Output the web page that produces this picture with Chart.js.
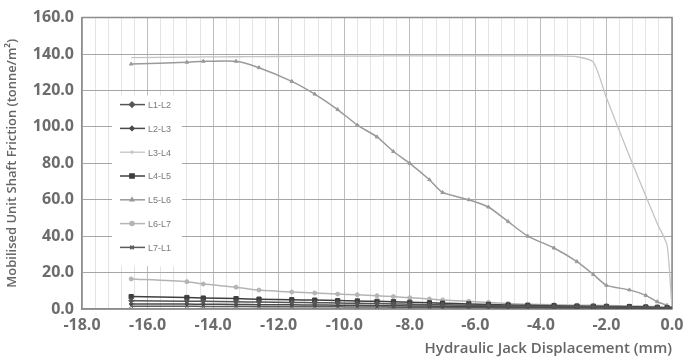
<!DOCTYPE html>
<html>
<head>
<meta charset="utf-8">
<script src="https://cdn.jsdelivr.net/npm/chart.js@4.4.1/dist/chart.umd.min.js"></script>
<style>
    html, body { margin: 0; padding: 0; background: #fff; }
    #wrap { width: 694px; height: 358px; }
</style>
</head>
<body>
<div id="wrap"><canvas id="frictionChart"></canvas></div>
<script>
// Jack displacement readings (mm), shared by every level pair
const displacement = [-16.5, -14.8, -14.3, -13.3, -12.6, -11.6, -10.9, -10.2, -9.6, -9.0, -8.5, -8.0, -7.4, -7.0, -6.2, -5.6, -5.0, -4.4, -3.6, -2.9, -2.4, -2.0, -1.3, -0.8, -0.45, -0.15, 0.0];

// Mobilised unit shaft friction (tonne/m2) per level pair
const l1l2 = [4.5, 4.3, 4.2, 4.0, 3.8, 3.6, 3.5, 3.3, 3.1, 3.0, 2.8, 2.6, 2.4, 2.3, 2.1, 1.9, 1.7, 1.5, 1.4, 1.3, 1.2, 1.1, 1.0, 0.9, 0.7, 0.5, 0];
const l2l3 = [2.8, 2.7, 2.6, 2.5, 2.4, 2.3, 2.2, 2.1, 2.0, 1.9, 1.8, 1.7, 1.6, 1.5, 1.4, 1.3, 1.2, 1.1, 1.0, 0.9, 0.9, 0.8, 0.7, 0.6, 0.5, 0.4, 0];
const l3l4 = [138.0, 138.3, 138.4, 138.5, 138.6, 138.7, 138.8, 138.8, 138.9, 138.9, 139.0, 139.0, 139.0, 139.0, 139.0, 139.0, 139.0, 139.0, 139.0, 138.5, 135.5, 116.0, 84.0, 62.0, 47.0, 35.0, 0];
const l4l5 = [6.8, 6.3, 6.0, 5.7, 5.4, 5.1, 4.9, 4.6, 4.4, 4.2, 4.0, 3.7, 3.4, 3.2, 2.8, 2.5, 2.2, 2.0, 1.8, 1.6, 1.5, 1.4, 1.3, 1.1, 0.9, 0.7, 0];
const l5l6 = [134.5, 135.5, 136.0, 136.0, 132.5, 125.0, 118.0, 109.5, 101.0, 94.5, 86.5, 80.0, 71.0, 64.0, 60.0, 56.0, 48.0, 40.0, 33.5, 26.0, 19.0, 13.0, 10.5, 7.5, 4.0, 2.0, 0];
const l6l7 = [16.5, 15.0, 13.7, 12.0, 10.4, 9.3, 8.8, 8.2, 7.8, 7.3, 6.8, 6.2, 5.5, 5.0, 4.2, 3.6, 3.0, 2.6, 2.3, 2.1, 2.0, 1.9, 1.7, 1.5, 1.3, 1.0, 0];
const l7l1 = [1.5, 1.5, 1.4, 1.4, 1.3, 1.3, 1.2, 1.2, 1.1, 1.1, 1.0, 1.0, 0.9, 0.9, 0.8, 0.8, 0.7, 0.7, 0.6, 0.6, 0.5, 0.5, 0.4, 0.4, 0.3, 0.2, 0];

const seriesNames = ['L1-L2', 'L2-L3', 'L3-L4', 'L4-L5', 'L5-L6', 'L6-L7', 'L7-L1'];
const seriesValues = [l1l2, l2l3, l3l4, l4l5, l5l6, l6l7, l7l1];

// look of each series (colour, marker)
const styles = [
    { color: '#555555', point: 'rectRot', radius: 2.5, width: 1.5 },
    { color: '#4a4a4a', point: 'rectRot', radius: 2, width: 1.5 },
    { color: '#c4c4c4', point: 'cross', radius: 0, width: 1.3 },
    { color: '#3f3f3f', point: 'rect', radius: 3, width: 1.5 },
    { color: '#9a9a9a', point: 'triangle', radius: 2, width: 1.5 },
    { color: '#b4b4b4', point: 'circle', radius: 2, width: 1.5 },
    { color: '#5c5c5c', point: 'crossRot', radius: 2.5, width: 1.5 }
];

const tickFont = { family: '"Open Sans", sans-serif', size: 16, weight: 'bold' };
const isMajor = v => Math.abs(v / 2 - Math.round(v / 2)) < 1e-6;

// Legend drawn inside the plot, over a white box
const innerLegend = {
    id: 'innerLegend',
    afterDatasetsDraw(chart) {
        const { ctx, chartArea } = chart;
        const left = chartArea.left + 30;
        const top = chartArea.top + 78;
        const rowH = 23.8;
        ctx.save();
        ctx.fillStyle = '#ffffff';
        ctx.fillRect(left, top, 70, rowH * 7 + 4);
        chart.data.datasets.forEach((ds, i) => {
            const y = top + 9 + i * rowH;
            ctx.strokeStyle = ds.borderColor;
            ctx.lineWidth = ds.borderWidth;
            ctx.beginPath();
            ctx.moveTo(left + 8, y);
            ctx.lineTo(left + 33, y);
            ctx.stroke();
            ctx.fillStyle = ds.backgroundColor;
            Chart.helpers.drawPoint(ctx, {
                pointStyle: ds.pointStyle,
                radius: Math.max(ds.pointRadius, 2),
                borderWidth: 1
            }, left + 20, y);
            ctx.fillStyle = '#7a7a7a';
            ctx.font = '9px "Liberation Sans Narrow", "Liberation Sans", sans-serif';
            ctx.textBaseline = 'middle';
            ctx.fillText(ds.label, left + 36, y + 1);
        });
        ctx.restore();
    }
};

// right-hand and top frame of the plot area
const plotFrame = {
    id: 'plotFrame',
    beforeDatasetsDraw(chart) {
        const { ctx, chartArea } = chart;
        ctx.save();
        ctx.strokeStyle = '#8c8c8c';
        ctx.lineWidth = 1.5;
        ctx.beginPath();
        ctx.moveTo(chartArea.left, chartArea.top);
        ctx.lineTo(chartArea.right, chartArea.top);
        ctx.lineTo(chartArea.right, chartArea.bottom);
        ctx.stroke();
        ctx.restore();
    }
};

const ctx = document.getElementById('frictionChart').getContext('2d');
new Chart(ctx, {
    type: 'line',
    data: {
        datasets: seriesNames.map((name, i) => {
            const s = styles[i];
            return {
                label: name,
                data: displacement.map((x, j) => ({ x: x, y: seriesValues[i][j] })),
                borderColor: s.color,
                backgroundColor: s.color,
                borderWidth: s.width,
                pointStyle: s.point,
                pointRadius: s.radius,
                pointBorderWidth: 1,
                tension: 0.2,
                fill: false
            };
        })
    },
    options: {
        responsive: true,
        maintainAspectRatio: false,
        animation: false,
        layout: { padding: { top: 17, right: 22, left: 0, bottom: 0 } },
        plugins: { legend: { display: false }, tooltip: { enabled: false } },
        scales: {
            x: {
                type: 'linear',
                min: -18,
                max: 0,
                afterBuildTicks: axis => {
                    const t = [];
                    for (let k = 0; k <= 45; k++) t.push({ value: -18 + k * 0.4 });
                    axis.ticks = t;
                },
                afterFit: s => { s.height = 49; },
                ticks: {
                    autoSkip: false,
                    maxRotation: 0,
                    padding: 7,
                    color: '#6c6c6c',
                    font: tickFont,
                    callback: v => isMajor(v) ? v.toFixed(1) : ''
                },
                grid: {
                    color: c => isMajor(c.tick.value) ? '#bdbdbd' : '#e4e4e4',
                    drawTicks: false
                },
                border: { color: '#8c8c8c', width: 1.5 },
                title: {
                    display: true,
                    align: 'end',
                    text: 'Hydraulic Jack Displacement (mm)',
                    color: '#666666',
                    font: { family: '"Open Sans", sans-serif', size: 15, weight: '600' },
                    padding: { top: 0, bottom: 0 }
                }
            },
            y: {
                min: 0,
                max: 160,
                afterFit: s => { s.width = 82; },
                ticks: {
                    stepSize: 20,
                    padding: 8,
                    color: '#6c6c6c',
                    font: tickFont,
                    callback: v => v.toFixed(1)
                },
                grid: { color: '#a6a6a6', drawTicks: false },
                border: { color: '#8c8c8c', width: 1.5 },
                title: {
                    display: true,
                    text: 'Mobilised Unit Shaft Friction (tonne/m²)',
                    color: '#666666',
                    font: { family: '"Open Sans", sans-serif', size: 13, weight: '600' },
                    padding: { top: 4, bottom: 0 }
                }
            }
        }
    },
    plugins: [plotFrame, innerLegend]
});
</script>
</body>
</html>
